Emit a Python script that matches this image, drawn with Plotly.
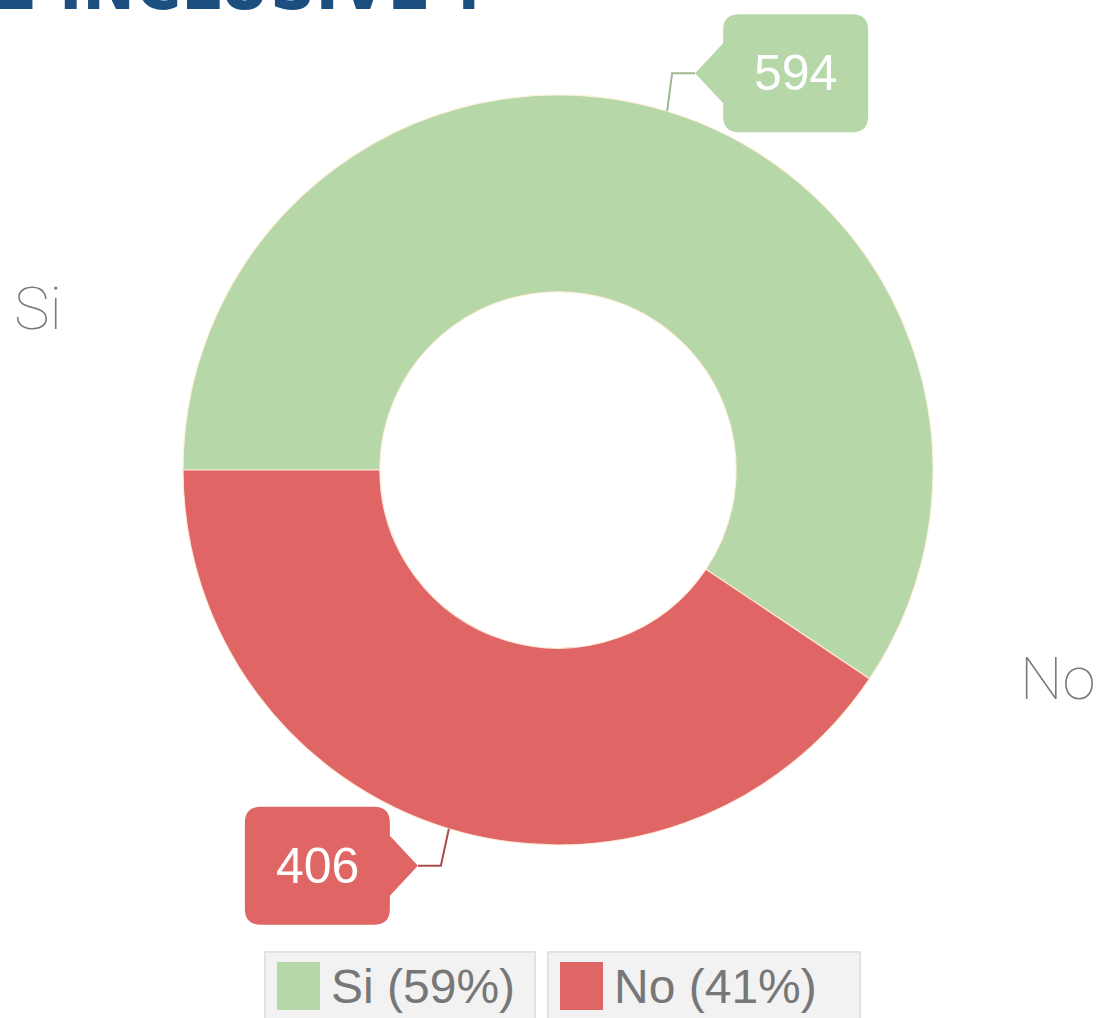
import math
import plotly.graph_objects as go

# ---- data ----
labels = ["Si", "No"]
values = [594, 406]
colors = ["#b6d7a8", "#e06666"]
line_colors = ["#9fb892", "#a84c4c"]
title_text = "E INCLUSIVE ?"

W, H = 1096, 1018
CX, CY, R = 558, 470, 375  # pixel geometry of the donut

def px(x):
    return x / W

def py(y):
    return 1 - y / H

fig = go.Figure()
fig.add_trace(go.Pie(
    labels=labels, values=values, sort=False, direction="clockwise",
    rotation=270, hole=0.475,
    marker=dict(colors=colors, line=dict(color="rgba(255,240,220,0.9)", width=1.2)),
    textinfo="none", showlegend=False,
    domain=dict(x=[px(CX - R), px(CX + R)], y=[py(CY + R), py(CY - R)]),
))

shapes = []
annotations = []

def P(x, y):
    return f"{px(x)},{py(y)}"

total = sum(values)
cum = 0
for i, (lab, v) in enumerate(zip(labels, values)):
    frac_mid = (cum + v / 2) / total
    cum += v
    theta = math.radians(180 - 360 * frac_mid)
    ax = CX + R * math.cos(theta)
    ay = CY - R * math.sin(theta)
    side = 1 if math.cos(theta) > 0 else -1
    # leader: anchor -> elbow -> tip
    if ay < CY:
        elbow = (ax + 5, ay - 38)
    else:
        elbow = (ax - 8, ay + 37)
    tip = (elbow[0] + 23 * side, elbow[1])
    shapes.append(dict(type="path", xref="paper", yref="paper",
                       path=f"M {P(ax, ay)} L {P(*elbow)} L {P(*tip)}",
                       line=dict(color=line_colors[i], width=2)))
    # callout box with pointer
    bw, bh, rr, ph = 145, 118, 16, 30
    if side > 0:
        x0 = tip[0] + 28
        x1 = x0 + bw
    else:
        x1 = tip[0] - 28
        x0 = x1 - bw
    y0 = tip[1] - bh / 2
    y1 = tip[1] + bh / 2
    ty = tip[1]
    if side > 0:
        path = (f"M {P(x0, y0 + rr)} Q {P(x0, y0)} {P(x0 + rr, y0)} L {P(x1 - rr, y0)} "
                f"Q {P(x1, y0)} {P(x1, y0 + rr)} L {P(x1, y1 - rr)} Q {P(x1, y1)} {P(x1 - rr, y1)} "
                f"L {P(x0 + rr, y1)} Q {P(x0, y1)} {P(x0, y1 - rr)} L {P(x0, ty + ph)} "
                f"L {P(tip[0], ty)} L {P(x0, ty - ph)} Z")
    else:
        path = (f"M {P(x0, y0 + rr)} Q {P(x0, y0)} {P(x0 + rr, y0)} L {P(x1 - rr, y0)} "
                f"Q {P(x1, y0)} {P(x1, y0 + rr)} L {P(x1, ty - ph)} L {P(tip[0], ty)} "
                f"L {P(x1, ty + ph)} L {P(x1, y1 - rr)} Q {P(x1, y1)} {P(x1 - rr, y1)} "
                f"L {P(x0 + rr, y1)} Q {P(x0, y1)} {P(x0, y1 - rr)} Z")
    shapes.append(dict(type="path", xref="paper", yref="paper", path=path,
                       fillcolor=colors[i], line=dict(width=0)))
    annotations.append(dict(x=px((x0 + x1) / 2), y=py(ty), xref="paper", yref="paper",
                            text=str(v), showarrow=False, xanchor="center", yanchor="middle",
                            font=dict(family="Liberation Sans, Arial", size=50, color="white")))

# outer category labels
annotations.append(dict(x=px(12), y=py(308), xref="paper", yref="paper", text=labels[0],
                        showarrow=False, xanchor="left", yanchor="middle",
                        font=dict(family="Roboto", size=60, color="#7a7a7a", weight=100)))
annotations.append(dict(x=px(1018), y=py(678), xref="paper", yref="paper", text=labels[1],
                        showarrow=False, xanchor="left", yanchor="middle",
                        font=dict(family="Roboto", size=60, color="#7a7a7a", weight=100)))

# legend boxes
leg_boxes = [(265, 535), (548, 860)]
for i, (lab, v) in enumerate(zip(labels, values)):
    bx0, bx1 = leg_boxes[i]
    shapes.append(dict(type="rect", xref="paper", yref="paper",
                       x0=px(bx0), x1=px(bx1), y0=py(1040), y1=py(952),
                       fillcolor="#f2f2f2", line=dict(color="#e2e2e2", width=2)))
    shapes.append(dict(type="rect", xref="paper", yref="paper",
                       x0=px(bx0 + 12), x1=px(bx0 + 55), y0=py(1010), y1=py(962),
                       fillcolor=colors[i], line=dict(width=0)))
    pct = round(100 * v / total)
    annotations.append(dict(x=px(bx0 + 64), y=py(986), xref="paper", yref="paper",
                            text=f"{lab} ({pct}%)", showarrow=False, xanchor="left", yanchor="middle",
                            font=dict(family="Liberation Sans, Arial", size=48, color="#777777")))

# cropped title
annotations.append(dict(x=px(-8), y=py(28), xref="paper", yref="paper", text=f"<b>{title_text}</b>",
                        showarrow=False, xanchor="left", yanchor="bottom",
                        font=dict(family="DejaVu Sans Condensed, DejaVu Sans", size=70, color="#1c4f80")))

fig.update_layout(width=W, height=H, margin=dict(l=0, r=0, t=0, b=0),
                  paper_bgcolor="white", plot_bgcolor="white",
                  shapes=shapes, annotations=annotations)

fig.write_html("out.html")
